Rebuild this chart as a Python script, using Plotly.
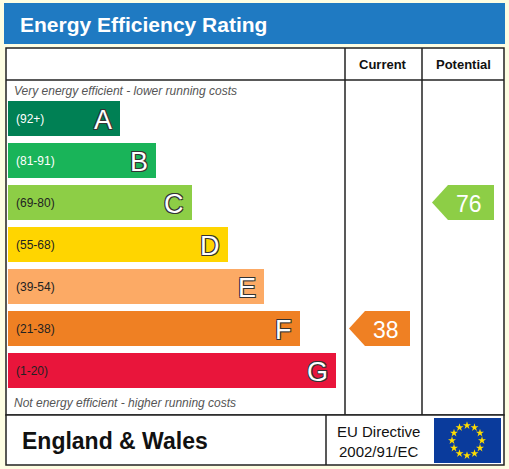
import plotly.graph_objects as go
import math

letters = ["A", "B", "C", "D", "E", "F", "G"]
ranges = ["(92+)", "(81-91)", "(69-80)", "(55-68)", "(39-54)", "(21-38)", "(1-20)"]
lows = [92, 81, 69, 55, 39, 21, 1]
colors = ["#008054", "#19b459", "#8dce46", "#ffd500", "#fcaa65", "#ef8023", "#e9153b"]
range_text_colors = ["white", "white", "#222", "#222", "#222", "#222", "#222"]
current = 38
potential = 76

W, H = 509, 469
fig = go.Figure()
shapes = []
ann = []

def rect(x0, y0, x1, y1, fill, line="black", lw=1):
    shapes.append(dict(type="rect", x0=x0, y0=y0, x1=x1, y1=y1, fillcolor=fill,
                       line=dict(color=line, width=lw), layer="below"))

rect(0, 0, W, H, "#fdfde2", "#fdfde2", 0)
rect(4, 3, 505, 44, "#1f7ac2", "#1f7ac2", 0)
ann.append(dict(x=18, y=24, text="<b>Energy Efficiency Rating</b>", showarrow=False, xanchor="left",
                font=dict(size=21, color="white", family="Liberation Sans")))
rect(6, 48, 504, 415, "white", "#222", 1.5)
rect(6, 415, 504, 465, "white", "#222", 1.5)
shapes.append(dict(type="line", x0=6, x1=504, y0=80, y1=80, line=dict(color="#222", width=1.5)))
shapes.append(dict(type="line", x0=345, x1=345, y0=48, y1=415, line=dict(color="#222", width=1.5)))
shapes.append(dict(type="line", x0=422, x1=422, y0=48, y1=415, line=dict(color="#222", width=1.5)))
shapes.append(dict(type="line", x0=326, x1=326, y0=415, y1=465, line=dict(color="#222", width=1.5)))
ann.append(dict(x=383, y=64, text="<b>Current</b>", showarrow=False, font=dict(size=13, color="#111", family="Liberation Sans")))
ann.append(dict(x=463, y=64, text="<b>Potential</b>", showarrow=False, font=dict(size=13, color="#111", family="Liberation Sans")))
ann.append(dict(x=12, y=91, text="<i>Very energy efficient - lower running costs</i>", showarrow=False, xanchor="left",
                font=dict(size=12, color="#555", family="Liberation Sans")))
ann.append(dict(x=12, y=403, text="<i>Not energy efficient - higher running costs</i>", showarrow=False, xanchor="left",
                font=dict(size=12, color="#555", family="Liberation Sans")))

top0, step, bh = 101, 42, 35
def band_y(i):
    return top0 + i * step

for i, (L, r, c, tc) in enumerate(zip(letters, ranges, colors, range_text_colors)):
    y0 = band_y(i)
    x1 = 120 + 36 * i
    fig.add_trace(go.Scatter(x=[8, x1, x1, 8, 8], y=[y0, y0, y0 + bh, y0 + bh, y0], fill="toself",
                             fillcolor=c, line=dict(width=0), mode="lines", hoverinfo="skip"))
    ann.append(dict(x=14, y=y0 + bh / 2, text=r, showarrow=False, xanchor="left",
                    font=dict(size=12, color=tc, family="Liberation Sans")))
    ann.append(dict(x=x1 - 6, y=y0 + bh / 2 + 1, text=L, showarrow=False, xanchor="right",
                    font=dict(size=27, color="white", family="Liberation Sans",
                              shadow="1px 1px 0 #333, -1px -1px 0 #333, 1px -1px 0 #333, -1px 1px 0 #333")))

def band_of(v):
    for i, lo in enumerate(lows):
        if v >= lo:
            return i
    return len(lows) - 1

def arrow(v, xl, xr):
    i = band_of(v)
    y0 = band_y(i); y1 = y0 + bh; ym = (y0 + y1) / 2
    xs = [xl, xl + 16, xr, xr, xl + 16, xl]
    ys = [ym, y0, y0, y1, y1, ym]
    fig.add_trace(go.Scatter(x=xs, y=ys, fill="toself", fillcolor=colors[i], line=dict(width=0),
                             mode="lines", hoverinfo="skip"))
    ann.append(dict(x=(xl + xr) / 2 + 6, y=ym + 1, text=str(v), showarrow=False,
                    font=dict(size=23, color="white", family="Liberation Sans")))

arrow(current, 349, 410)
arrow(potential, 432, 494)

ann.append(dict(x=20, y=441, text="<b>England &amp; Wales</b>", showarrow=False, xanchor="left",
                font=dict(size=23, color="#111", family="Liberation Sans")))
ann.append(dict(x=378, y=431, text="EU Directive", showarrow=False,
                font=dict(size=15, color="#111", family="Liberation Sans")))
ann.append(dict(x=378, y=451, text="2002/91/EC", showarrow=False,
                font=dict(size=15, color="#111", family="Liberation Sans")))
rect(434, 418, 501, 463, "#0a3b9c", "#0a3b9c", 0)
sx = [467 + 15 * math.cos(2 * math.pi * k / 12) for k in range(12)]
sy = [440.5 + 15 * math.sin(2 * math.pi * k / 12) for k in range(12)]
fig.add_trace(go.Scatter(x=sx, y=sy, mode="markers", marker=dict(symbol="star", size=6, color="#ffdd00"),
                         hoverinfo="skip"))

fig.update_layout(width=W, height=H, margin=dict(l=0, r=0, t=0, b=0), showlegend=False,
                  plot_bgcolor="#fdfde2", paper_bgcolor="#fdfde2", shapes=shapes, annotations=ann,
                  xaxis=dict(range=[0, W], visible=False, fixedrange=True),
                  yaxis=dict(range=[H, 0], visible=False, fixedrange=True))
fig.write_html("out.html", config={"displayModeBar": False},
               post_script="document.body.style.margin='0';document.body.style.overflow='hidden';")
